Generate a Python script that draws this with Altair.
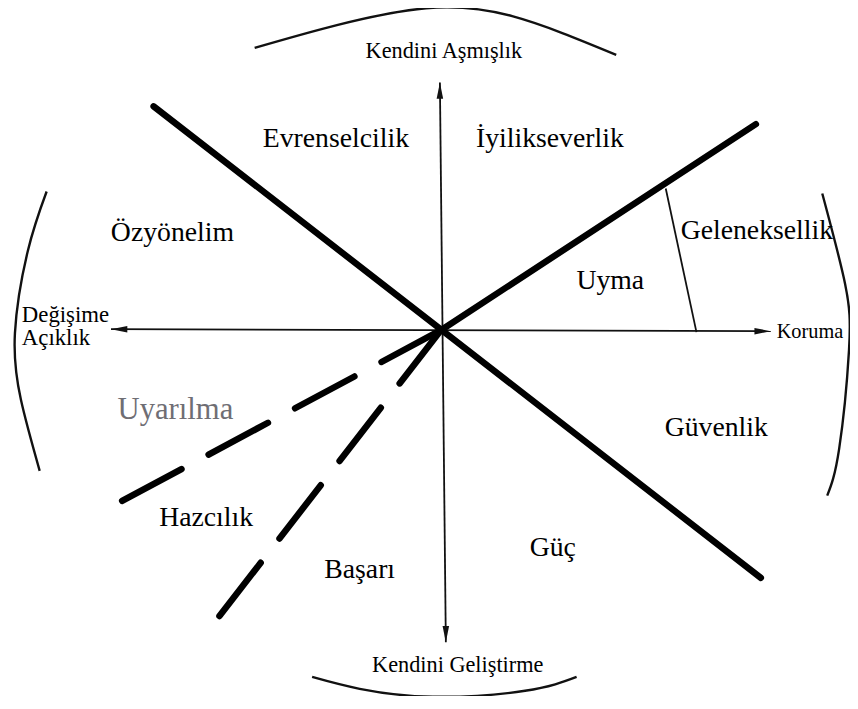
import altair as alt
import pandas as pd

# ---- data (image pixel coordinates of the diagram) ----
thick_x = [155, 445]
thick_y = [104, 330]
thick_x2 = [768, 763]
thick_y2 = [580, 122]

dash_x = [445, 445]
dash_y = [330, 330]
dash_x2 = [105, 218]
dash_y2 = [512, 623]

thin_x = [112, 444, 672]
thin_y = [329, 80, 187]
thin_x2 = [778, 450, 703]
thin_y2 = [331, 645, 332]

arc_names = ["top"] * 5 + ["left"] * 5 + ["right"] * 5 + ["bottom"] * 5
arc_order = [0, 1, 2, 3, 4] * 4
arc_x = [257, 340, 430, 517, 622,
         47, 28, 15, 21, 40,
         830, 853, 857, 847, 835,
         315, 363, 437, 530, 582]
arc_y = [45, 22, 5, 13, 52,
         190, 250, 333, 400, 472,
         192, 283, 350, 450, 497,
         680, 692, 700, 694, 680]

arrow_x = [112, 778, 444, 450]
arrow_y = [329, 331, 80, 645]
arrow_angle = [270, 90, 0, 180]

big_text = ["Evrenselcilik", "İyilikseverlik", "Özyönelim", "Geleneksellik",
            "Uyma", "Güvenlik", "Hazcılık", "Başarı", "Güç"]
big_x = [339, 555, 174, 764, 616, 723, 208, 363, 558]
big_y = [145, 145, 240, 238, 288, 437, 528, 580, 558]

small_text = ["Kendini Aşmışlık", "Kendini Geliştirme"]
small_x = [448, 462]
small_y = [55, 675]

left_text = ["Değişime", "Açıklık"]
left_x = [22, 22]
left_y = [322, 345]

right_text = ["Koruma"]
right_x = [784]
right_y = [338]

ua_text = ["Uyarılma"]
ua_x = [177]
ua_y = [420]

W, H = 850, 688
xs = alt.Scale(domain=[8, 8 + W], nice=False, zero=False)
ys = alt.Scale(domain=[8, 8 + H], nice=False, zero=False, reverse=True)


def X(f="x"):
    return alt.X(f + ":Q", scale=xs, axis=None)


def Y(f="y"):
    return alt.Y(f + ":Q", scale=ys, axis=None)


seg_thick = pd.DataFrame({"x": thick_x, "y": thick_y, "x2": thick_x2, "y2": thick_y2})
seg_dash = pd.DataFrame({"x": dash_x, "y": dash_y, "x2": dash_x2, "y2": dash_y2})
seg_thin = pd.DataFrame({"x": thin_x, "y": thin_y, "x2": thin_x2, "y2": thin_y2})
arcs = pd.DataFrame({"arc": arc_names, "i": arc_order, "x": arc_x, "y": arc_y})
arrows = pd.DataFrame({"x": arrow_x, "y": arrow_y, "a": arrow_angle})
big = pd.DataFrame({"t": big_text, "x": big_x, "y": big_y})
small = pd.DataFrame({"t": small_text, "x": small_x, "y": small_y})
left = pd.DataFrame({"t": left_text, "x": left_x, "y": left_y})
right = pd.DataFrame({"t": right_text, "x": right_x, "y": right_y})
ua = pd.DataFrame({"t": ua_text, "x": ua_x, "y": ua_y})

thick = alt.Chart(seg_thick).mark_rule(strokeWidth=6.5, color="black", strokeCap="round").encode(
    x=X(), y=Y(), x2="x2:Q", y2="y2:Q")
dashed = alt.Chart(seg_dash).mark_rule(strokeWidth=6.5, color="black", strokeCap="round",
                                       strokeDash=[68, 31]).encode(
    x=X(), y=Y(), x2="x2:Q", y2="y2:Q")
thin = alt.Chart(seg_thin).mark_rule(strokeWidth=1.8, color="#111").encode(
    x=X(), y=Y(), x2="x2:Q", y2="y2:Q")
arc_lines = alt.Chart(arcs).mark_line(strokeWidth=2.4, color="#111", interpolate="natural").encode(
    x=X(), y=Y(), detail="arc:N", order="i:Q")
heads = alt.Chart(arrows).mark_point(filled=True, color="#111", opacity=1, strokeWidth=0,
                                     shape="M0,0L0.38,1.9L-0.38,1.9Z", size=300).encode(
    x=X(), y=Y(), angle=alt.Angle("a:Q", scale=None))

FONT = "Liberation Serif"
big_t = alt.Chart(big).mark_text(font=FONT, fontSize=28, color="#000",
                                 align="center", baseline="alphabetic").encode(
    x=X(), y=Y(), text="t:N")
small_t = alt.Chart(small).mark_text(font=FONT, fontSize=22.5, color="#000",
                                     align="center", baseline="alphabetic").encode(
    x=X(), y=Y(), text="t:N")
left_t = alt.Chart(left).mark_text(font=FONT, fontSize=23, color="#000",
                                   align="left", baseline="alphabetic").encode(
    x=X(), y=Y(), text="t:N")
right_t = alt.Chart(right).mark_text(font=FONT, fontSize=20.5, color="#000",
                                     align="left", baseline="alphabetic").encode(
    x=X(), y=Y(), text="t:N")
ua_t = alt.Chart(ua).mark_text(font=FONT, fontSize=31, color="#6f6e74",
                               align="center", baseline="alphabetic").encode(
    x=X(), y=Y(), text="t:N")

chart = alt.layer(thin, arc_lines, thick, dashed, heads, big_t, small_t, left_t, right_t,
                  ua_t).properties(
    width=W, height=H, padding=0, autosize=alt.AutoSizeParams(type="none"),
    background="white"
).configure_view(strokeWidth=0)

chart.save("out.html", embed_options={"renderer": "svg", "actions": False})
